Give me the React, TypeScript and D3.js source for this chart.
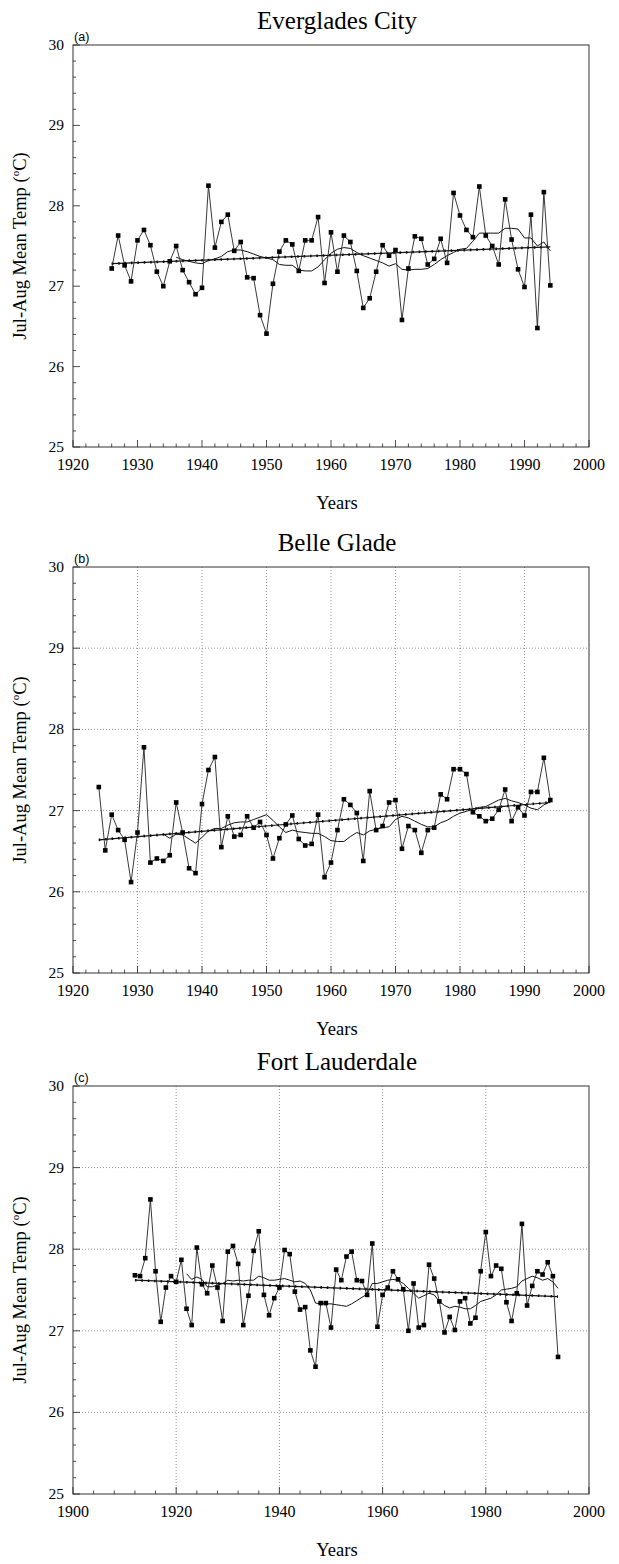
import React from "react";
import * as d3 from "d3";

// ---------- DATA ----------
const evergladesStart = 1926;
const evergladesObs = [
  27.22, 27.63, 27.26, 27.06, 27.57, 27.70, 27.51, 27.18, 27.00, 27.31,
  27.50, 27.20, 27.05, 26.90, 26.98, 28.25, 27.48, 27.80, 27.89, 27.44,
  27.55, 27.11, 27.10, 26.64, 26.41, 27.03, 27.43, 27.57, 27.52, 27.19,
  27.57, 27.57, 27.86, 27.04, 27.67, 27.18, 27.63, 27.55, 27.19, 26.73,
  26.85, 27.18, 27.51, 27.38, 27.45, 26.58, 27.22, 27.62, 27.59, 27.27,
  27.34, 27.59, 27.29, 28.16, 27.88, 27.70, 27.61, 28.24, 27.63, 27.50,
  27.27, 28.08, 27.58, 27.21, 26.99, 27.89, 26.48, 28.17, 27.01,
];
const evergladesSmoothStart = 1936;
const evergladesSmooth = [
  27.36, 27.33, 27.31, 27.29, 27.28, 27.32, 27.34, 27.37, 27.43, 27.45,
  27.45, 27.43, 27.40, 27.37, 27.35, 27.33, 27.27, 27.26, 27.26, 27.20,
  27.19, 27.19, 27.24, 27.33, 27.41, 27.46, 27.48, 27.47, 27.42, 27.38,
  27.35, 27.32, 27.29, 27.25, 27.28, 27.21, 27.20, 27.21, 27.21, 27.22,
  27.27, 27.33, 27.38, 27.42, 27.46, 27.47, 27.56, 27.66, 27.66, 27.66,
  27.66, 27.72, 27.72, 27.71, 27.60, 27.60, 27.50, 27.55, 27.44,
];
const evergladesTrend: [number, number][] = [[1926, 27.28], [1994, 27.49]];

const belleStart = 1924;
const belleObs = [
  27.29, 26.51, 26.95, 26.76, 26.64, 26.12, 26.73, 27.78, 26.36, 26.41,
  26.38, 26.45, 27.10, 26.73, 26.29, 26.23, 27.08, 27.50, 27.66, 26.55,
  26.93, 26.68, 26.70, 26.93, 26.79, 26.86, 26.70, 26.41, 26.66, 26.83,
  26.94, 26.65, 26.57, 26.59, 26.95, 26.18, 26.36, 26.76, 27.14, 27.07,
  26.97, 26.38, 27.24, 26.76, 26.81, 27.10, 27.13, 26.53, 26.81, 26.76,
  26.48, 26.76, 26.79, 27.20, 27.14, 27.51, 27.51, 27.45, 26.98, 26.93,
  26.87, 26.90, 27.01, 27.26, 26.87, 27.04, 26.94, 27.23, 27.23, 27.65,
  27.13,
];
const belleSmoothStart = 1934;
const belleSmooth = [
  26.71, 26.66, 26.71, 26.70, 26.65, 26.60, 26.67, 26.75, 26.78, 26.78,
  26.82, 26.85, 26.86, 26.86, 26.89, 26.92, 26.95, 26.88, 26.80, 26.73,
  26.76, 26.74, 26.73, 26.72, 26.72, 26.68, 26.63, 26.62, 26.62, 26.68,
  26.73, 26.70, 26.75, 26.77, 26.79, 26.80, 26.89, 26.93, 26.91, 26.87,
  26.83, 26.80, 26.80, 26.85, 26.88, 26.93, 26.97, 26.99, 27.02, 27.04,
  27.05, 27.09, 27.13, 27.15, 27.12, 27.10, 27.07, 27.03, 27.01, 27.07,
  27.11,
];
const belleTrend: [number, number][] = [[1924, 26.64], [1994, 27.10]];

const fortStart = 1912;
const fortObs = [
  27.68, 27.67, 27.89, 28.61, 27.73, 27.11, 27.53, 27.67, 27.60, 27.87,
  27.27, 27.07, 28.02, 27.57, 27.46, 27.80, 27.53, 27.12, 27.97, 28.04,
  27.82, 27.07, 27.43, 27.98, 28.22, 27.44, 27.19, 27.40, 27.53, 27.99,
  27.94, 27.48, 27.26, 27.29, 26.76, 26.56, 27.34, 27.34, 27.04, 27.75,
  27.62, 27.91, 27.97, 27.62, 27.61, 27.44, 28.07, 27.05, 27.44, 27.53,
  27.73, 27.63, 27.51, 27.00, 27.58, 27.04, 27.07, 27.81, 27.64, 27.36,
  26.98, 27.17, 27.01, 27.36, 27.40, 27.09, 27.16, 27.73, 28.21, 27.67,
  27.80, 27.76, 27.35, 27.12, 27.46, 28.31, 27.31, 27.55, 27.73, 27.69,
  27.84, 27.67, 26.68,
];
const fortSmoothStart = 1922;
const fortSmooth = [
  27.70, 27.63, 27.66, 27.63, 27.54, 27.54, 27.56, 27.58, 27.62, 27.61,
  27.62, 27.61, 27.62, 27.62, 27.67, 27.65, 27.62, 27.62, 27.63, 27.64,
  27.62, 27.60, 27.61, 27.58, 27.50, 27.34, 27.33, 27.33, 27.33, 27.32,
  27.31, 27.30, 27.33, 27.37, 27.41, 27.45, 27.58, 27.58, 27.60, 27.62,
  27.63, 27.62, 27.58, 27.52, 27.46, 27.40, 27.43, 27.46, 27.44, 27.36,
  27.31, 27.28, 27.30, 27.29, 27.27, 27.27, 27.31, 27.36, 27.38, 27.40,
  27.44, 27.50, 27.51, 27.52, 27.54, 27.61, 27.64, 27.67, 27.65, 27.62,
  27.64, 27.60, 27.52,
];
const fortTrend: [number, number][] = [[1912, 27.62], [1994, 27.42]];

const yTickValues = [25, 26, 27, 28, 29, 30];
const xTicksAB = [1920, 1930, 1940, 1950, 1960, 1970, 1980, 1990, 2000];
const xTicksC = [1900, 1920, 1940, 1960, 1980, 2000];

// ---------- LAYOUT ----------
const W = 619;
const H = 1564;
const LEFT = 73;
const RIGHT = 589;
const serif = "'Liberation Serif', 'Times New Roman', serif";
const sans = "'Liberation Sans', Arial, sans-serif";

type PanelProps = {
  letter: string;
  title: string;
  top: number;
  bottom: number;
  xDomain: [number, number];
  xTicks: number[];
  xMinorStep: number;
  grid: boolean;
  obsStart: number;
  obs: number[];
  smoothStart: number;
  smooth: number[];
  trend: [number, number][];
};

function Panel(p: PanelProps) {
  const x = d3.scaleLinear().domain(p.xDomain).range([LEFT, RIGHT]);
  const y = d3.scaleLinear().domain([25, 30]).range([p.bottom, p.top]);
  const obsPts: [number, number][] = p.obs.map((v, i) => [p.obsStart + i, v]);
  const smPts: [number, number][] = p.smooth.map((v, i) => [p.smoothStart + i, v]);
  const line = d3
    .line<[number, number]>()
    .x((d) => x(d[0]))
    .y((d) => y(d[1]));
  const yMinor = d3.range(25, 30.001, 0.2);
  const xMinor = d3.range(p.xDomain[0], p.xDomain[1] + 0.001, p.xMinorStep);
  const midY = (p.top + p.bottom) / 2;
  return (
    <g>
      <text x={(LEFT + RIGHT) / 2 + 6} y={p.top - 16} textAnchor="middle" fontFamily={serif} fontSize={25}>
        {p.title}
      </text>
      <text x={LEFT + 1} y={p.top - 4} fontFamily={sans} fontSize={12.5}>
        ({p.letter})
      </text>
      {p.grid && (
        <g stroke="#777" strokeWidth={0.8} strokeDasharray="1 2">
          {yTickValues.slice(1, -1).map((t) => (
            <line key={"gy" + t} x1={LEFT} x2={RIGHT} y1={y(t)} y2={y(t)} />
          ))}
          {p.xTicks.slice(1, -1).map((t) => (
            <line key={"gx" + t} x1={x(t)} x2={x(t)} y1={p.top} y2={p.bottom} />
          ))}
        </g>
      )}
      <rect x={LEFT} y={p.top} width={RIGHT - LEFT} height={p.bottom - p.top} fill="none" stroke="#333" strokeWidth={1} />
      <g stroke="#222" strokeWidth={0.8}>
        {yMinor.map((t, i) => (
          <line key={"ym" + i} x1={LEFT} x2={LEFT + (i % 5 === 0 ? 7 : 3)} y1={y(t)} y2={y(t)} />
        ))}
        {xMinor.map((t, i) => (
          <line key={"xm" + i} x1={x(t)} x2={x(t)} y1={p.bottom} y2={p.bottom - (i % 5 === 0 ? 7 : 3.5)} />
        ))}
      </g>
      {yTickValues.map((t) => (
        <text key={"yl" + t} x={LEFT - 9} y={y(t) + 5} textAnchor="end" fontFamily={serif} fontSize={15.5}>
          {t}
        </text>
      ))}
      {p.xTicks.map((t) => (
        <text key={"xl" + t} x={x(t)} y={p.bottom + 23} textAnchor="middle" fontFamily={serif} fontSize={16}>
          {t}
        </text>
      ))}
      <text x={(LEFT + RIGHT) / 2 + 6} y={p.bottom + 62} textAnchor="middle" fontFamily={serif} fontSize={18.5}>
        Years
      </text>
      <text
        transform={`translate(26,${midY}) rotate(-90)`}
        textAnchor="middle"
        fontFamily={serif}
        fontSize={18.5}
      >
        Jul-Aug Mean Temp (<tspan fontSize={11} dy={-7}>o</tspan>
        <tspan dy={7}>C)</tspan>
      </text>
      <path d={line(p.trend) || ""} fill="none" stroke="#111" strokeWidth={1.2} />
      <path d={line(p.trend) || ""} fill="none" stroke="#111" strokeWidth={2.6} strokeDasharray="1.6 4.8" />
      <path d={line(smPts) || ""} fill="none" stroke="#111" strokeWidth={1} />
      <path d={line(obsPts) || ""} fill="none" stroke="#222" strokeWidth={0.9} />
      {obsPts.map((d, i) => (
        <rect key={"pt" + i} x={x(d[0]) - 2.3} y={y(d[1]) - 2.3} width={4.6} height={4.6} fill="#000" />
      ))}
    </g>
  );
}

export default function App() {
  return (
    <div style={{ position: "absolute", left: 0, top: 0, width: W, height: H, background: "#fff" }}>
      <svg width={W} height={H} viewBox={`0 0 ${W} ${H}`} style={{ display: "block" }}>
        <rect width={W} height={H} fill="#fff" />
        <Panel
          letter="a"
          title="Everglades City"
          top={45}
          bottom={447}
          xDomain={[1920, 2000]}
          xTicks={xTicksAB}
          xMinorStep={2}
          grid={false}
          obsStart={evergladesStart}
          obs={evergladesObs}
          smoothStart={evergladesSmoothStart}
          smooth={evergladesSmooth}
          trend={evergladesTrend}
        />
        <Panel
          letter="b"
          title="Belle Glade"
          top={567}
          bottom={973}
          xDomain={[1920, 2000]}
          xTicks={xTicksAB}
          xMinorStep={2}
          grid={true}
          obsStart={belleStart}
          obs={belleObs}
          smoothStart={belleSmoothStart}
          smooth={belleSmooth}
          trend={belleTrend}
        />
        <Panel
          letter="c"
          title="Fort Lauderdale"
          top={1086}
          bottom={1494}
          xDomain={[1900, 2000]}
          xTicks={xTicksC}
          xMinorStep={4}
          grid={true}
          obsStart={fortStart}
          obs={fortObs}
          smoothStart={fortSmoothStart}
          smooth={fortSmooth}
          trend={fortTrend}
        />
      </svg>
    </div>
  );
}
